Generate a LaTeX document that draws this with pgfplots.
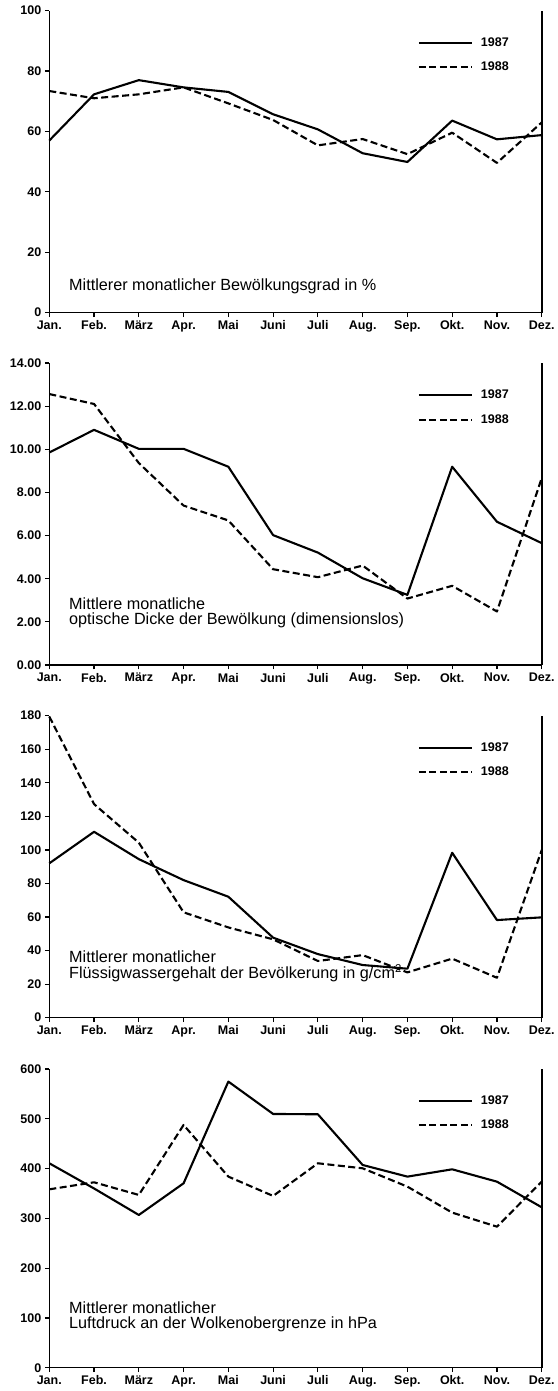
\documentclass[border=0pt]{standalone}
\usepackage{fontspec}
\setmainfont{Liberation Sans}
\usepackage{pgfplots}
\pgfplotsset{compat=1.18}

% shared look of the four monthly panels
\pgfplotsset{
  panel/.style={
    scale only axis, width=492.4pt, height=302pt,
    anchor=south west,
    xmin=0, xmax=11, ymin=0,
    xtick={0,...,11},
    xticklabels={Jan.,Feb.,März,Apr.,Mai,Juni,Juli,Aug.,Sep.,Okt.,Nov.,Dez.},
    axis x line=bottom, axis y line=box, ytick pos=left,
    axis line style={-, line width=1.6pt},
    tick align=outside, major tick length=4.5pt,
    every tick/.style={line width=1.2pt, black},
    tick label style={font=\bfseries\fontsize{12.5}{14}\selectfont},
    /pgf/number format/assume math mode=true,
    clip=false,
    legend image code/.code={\draw[##1] (0pt,0pt) -- (53pt,0pt);},
    legend style={draw=none, fill=none, at={(axis description cs:0.748,0.912)},
      anchor=north west, inner sep=0pt, row sep=14.5pt, column sep=8pt,
      font=\bfseries\fontsize{12.5}{14}\selectfont, nodes={inner sep=0pt}},
    legend cell align=left,
  },
  y87/.style={black, line width=2.1pt, line join=round},
  y88/.style={black, line width=2.1pt, line join=round, dash pattern=on 7pt off 3.5pt},
}
\tikzset{
  note/.style={anchor=base west, align=left, inner sep=0pt,
    font=\fontsize{16.2}{15.9}\selectfont},
}

\begin{document}
\begin{tikzpicture}
\useasboundingbox (0,0) rectangle (557pt,1391pt);

% Bewoelkungsgrad
\begin{axis}[panel, at={(49.3pt,1078.3pt)}, ymax=100, ytick={0,20,...,100}]
\addplot[y87] coordinates {(0,57.0)(1,72.3)(2,77.0)(3,74.6)(4,73.1)(5,65.7)(6,60.7)(7,52.8)(8,49.9)(9,63.6)(10,57.4)(11,58.8)};
\addplot[y88] coordinates {(0,73.4)(1,71.0)(2,72.3)(3,74.6)(4,69.3)(5,63.8)(6,55.4)(7,57.5)(8,52.5)(9,59.6)(10,49.6)(11,63.0)};
\legend{1987,1988}
\node[note] at (axis description cs:0.04,0.0728) {Mittlerer monatlicher Bewölkungsgrad in \%};
\end{axis}

% optische Dicke
\begin{axis}[panel, at={(49.3pt,726pt)}, ymax=14, ytick={0,2,...,14},
  yticklabel style={/pgf/number format/.cd, fixed, fixed zerofill, precision=2}]
\addplot[y87] coordinates {(0,9.85)(1,10.9)(2,10.02)(3,10.02)(4,9.19)(5,6.02)(6,5.21)(7,4.02)(8,3.25)(9,9.19)(10,6.64)(11,5.65)};
\addplot[y88] coordinates {(0,12.56)(1,12.10)(2,9.36)(3,7.39)(4,6.70)(5,4.44)(6,4.07)(7,4.61)(8,3.08)(9,3.67)(10,2.48)(11,8.66)};
\legend{1987,1988}
\node[note] at (axis description cs:0.04,0.1325) {Mittlere monatliche\\optische Dicke der Bewölkung (dimensionslos)};
\end{axis}

% Fluessigwassergehalt
\begin{axis}[panel, at={(49.3pt,373.3pt)}, ymax=180, ytick={0,20,...,180}]
\addplot[y87] coordinates {(0,92.0)(1,110.8)(2,94.5)(3,82.0)(4,72.1)(5,47.7)(6,37.9)(7,31.4)(8,29.2)(9,98.3)(10,58.2)(11,59.8)};
\addplot[y88] coordinates {(0,179.5)(1,127.3)(2,104.3)(3,62.8)(4,53.8)(5,46.7)(6,33.8)(7,37.3)(8,27.0)(9,35.2)(10,23.8)(11,99.9)};
\legend{1987,1988}
\node[note] at (axis description cs:0.04,0.130) {Mittlerer monatlicher\\Flüssigwassergehalt der Bevölkerung in g/cm\textsuperscript{2}};
\end{axis}

% Luftdruck an der Wolkenobergrenze
\begin{axis}[panel, at={(49.3pt,23.3pt)}, height=298.7pt, ymax=600, ytick={0,100,...,600}]
\addplot[y87] coordinates {(0,410.6)(1,360)(2,306.8)(3,370.4)(4,574.7)(5,509.7)(6,509)(7,407.2)(8,383.8)(9,398.5)(10,373.7)(11,322.2)};
\addplot[y88] coordinates {(0,358.3)(1,372.4)(2,347)(3,487.6)(4,383.8)(5,345)(6,410.6)(7,400.5)(8,363.7)(9,311.5)(10,283.3)(11,373.7)};
\legend{1987,1988}
\node[note] at (axis description cs:0.04,0.1296) {Mittlerer monatlicher\\Luftdruck an der Wolkenobergrenze in hPa};
\end{axis}
\end{tikzpicture}
\end{document}
